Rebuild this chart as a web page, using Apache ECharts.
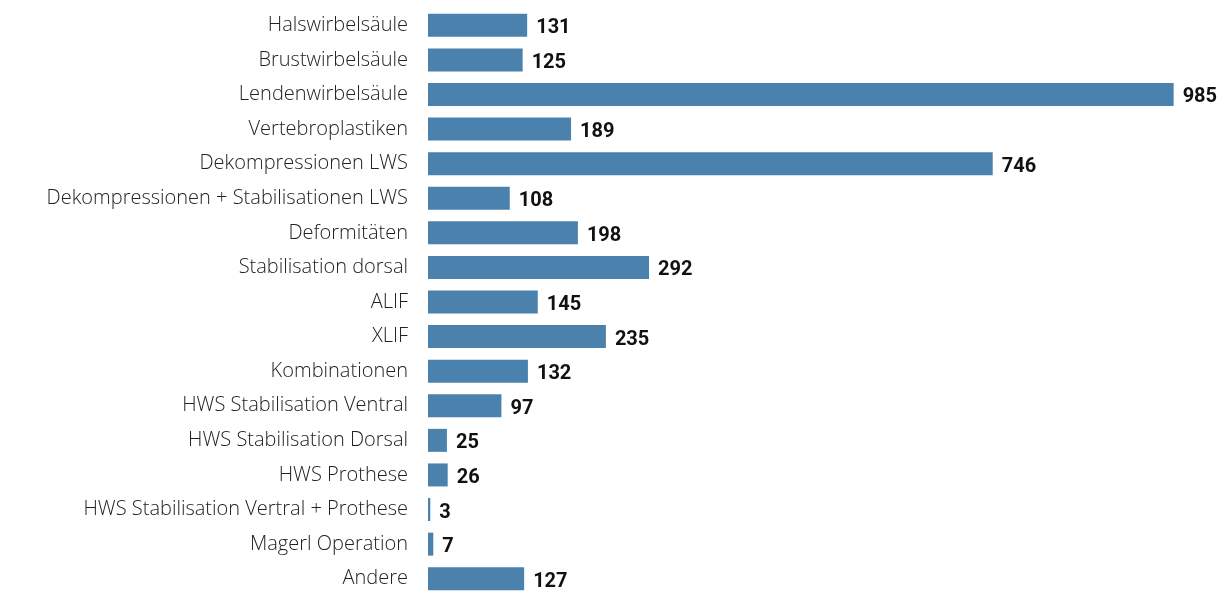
<!DOCTYPE html>
<html><head><meta charset="utf-8">
<script src="https://cdn.jsdelivr.net/npm/echarts@6/dist/echarts.min.js"></script>
<style>html,body{margin:0;padding:0;background:#fff}#c{width:1218px;height:596px}</style>
</head><body><div id="c"></div>
<script>
const categories = ["Halswirbelsäule","Brustwirbelsäule","Lendenwirbelsäule","Vertebroplastiken","Dekompressionen LWS","Dekompressionen + Stabilisationen LWS","Deformitäten","Stabilisation dorsal","ALIF","XLIF","Kombinationen","HWS Stabilisation Ventral","HWS Stabilisation Dorsal","HWS Prothese","HWS Stabilisation Vertral + Prothese","Magerl Operation","Andere"];
const values = [131,125,985,189,746,108,198,292,145,235,132,97,25,26,3,7,127];
const chart = echarts.init(document.getElementById('c'), null, {renderer:'canvas'});
chart.setOption({
  animation:false,
  grid:{left:428,right:33,top:8,bottom:0,containLabel:false},
  xAxis:{type:'value',min:0,max:1000,show:false},
  yAxis:{type:'category',inverse:true,data:categories,
    axisLine:{show:false},axisTick:{show:false},
    axisLabel:{margin:20,fontFamily:'Open Sans',fontWeight:300,fontSize:20,color:'#222',padding:[0,0,6,0]}},
  series:[{type:'bar',data:values,barWidth:23,itemStyle:{color:'#4b81ad'},
    label:{show:true,position:'right',distance:9,offset:[0,3],fontFamily:'Roboto',fontWeight:'bold',fontSize:20,color:'#111'}}]
});
</script></body></html>
